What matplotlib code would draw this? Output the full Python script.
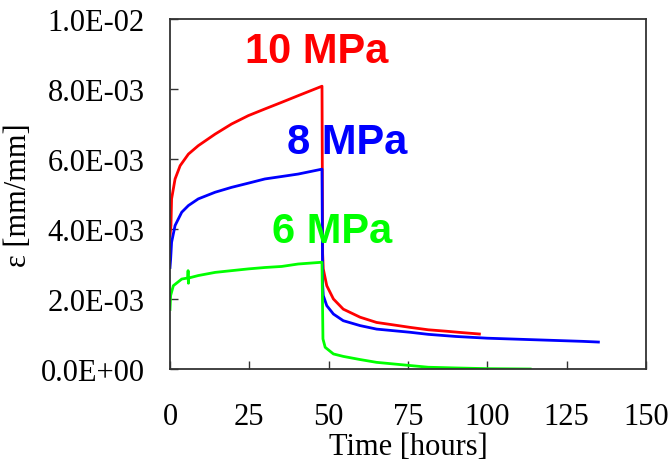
import numpy as np
import matplotlib.pyplot as plt
from matplotlib.ticker import FuncFormatter

# 10 MPa (strain in 1e-3 mm/mm)
t10 = [0, 0.3, 0.5, 1.6, 3.2, 5.8, 8.9, 14.2, 19.4, 24.7, 29.9, 35.2, 40.4, 47.9,
       48.1, 48.3, 49.4, 51.5, 54.6, 59.9, 65.1, 70.4, 75.6, 81.4, 87, 92, 97.5]
e10 = [3.8, 4.1, 4.86, 5.43, 5.81, 6.14, 6.38, 6.71, 7.0, 7.24, 7.43, 7.62, 7.81, 8.08,
       3.3, 2.86, 2.38, 2.0, 1.71, 1.48, 1.33, 1.26, 1.19, 1.12, 1.08, 1.04, 1.0]

# 8 MPa
t8 = [0, 0.2, 0.5, 1.6, 3.7, 5.8, 8.9, 14.2, 19.4, 24.7, 29.9, 35.2, 40.4, 47.9,
      48.1, 48.3, 49.4, 51.5, 54.6, 59.9, 65.1, 75.6, 81.4, 90, 100, 110, 120, 130, 135]
e8 = [2.9, 3.14, 3.62, 4.1, 4.48, 4.67, 4.86, 5.05, 5.19, 5.31, 5.43, 5.5, 5.57, 5.71,
      2.4, 2.1, 1.81, 1.57, 1.38, 1.24, 1.14, 1.05, 0.99, 0.93, 0.88, 0.85, 0.82, 0.79, 0.77]

# 6 MPa
t6 = [0, 0.2, 1.05, 3.7, 5.6, 5.7, 5.8, 5.9, 8.9, 14.2, 19.4, 24.7, 29.9, 35.2, 40.4, 47.9,
      48.2, 48.9, 51.5, 54.6, 59.9, 65.1, 75.6, 81.4, 90, 100, 113.5]
e6 = [1.7, 2.1, 2.38, 2.57, 2.6, 2.81, 2.45, 2.6, 2.67, 2.76, 2.81, 2.86, 2.9, 2.93, 3.0, 3.05,
      0.86, 0.62, 0.43, 0.36, 0.27, 0.19, 0.1, 0.05, 0.03, 0.01, 0.0]

xticks = [0, 25, 50, 75, 100, 125, 150]
yticks = [0, 0.002, 0.004, 0.006, 0.008, 0.010]

serif = 'Liberation Serif'
sans = 'Liberation Sans'

fig = plt.figure(figsize=(6.71, 4.64), dpi=100)
ax = fig.add_axes([170/671, 1-370/464, 476/671, 350/464])

ax.plot(t10, np.array(e10)*1e-3, color='#ff0000', lw=2.0)
ax.plot(t8, np.array(e8)*1e-3, color='#0000ff', lw=2.0)
ax.plot(t6, np.array(e6)*1e-3, color='#00ff00', lw=2.0)

ax.set_xlim(0, 150)
ax.set_ylim(0, 0.01)
ax.set_xticks(xticks)
ax.set_yticks(yticks)
ax.yaxis.set_major_formatter(FuncFormatter(lambda v, p: '%.1E' % v))
ax.tick_params(direction='in', length=6, width=1, color='#333333')
ax.tick_params(axis='x', pad=24, labelsize=22)
ax.tick_params(axis='y', pad=18, labelsize=22)
for lab in ax.get_xticklabels() + ax.get_yticklabels():
    lab.set_fontfamily(serif)
for s in ax.spines.values():
    s.set_color('#333333')
    s.set_linewidth(1.3)

ax.set_xlabel('Time [hours]', fontsize=22, family=serif, labelpad=0.5)
ax.set_ylabel('ε [mm/mm]', fontsize=22, family=serif, labelpad=6)

ax.text(46.3, 0.00909, '10 MPa', color='#ff0000', fontsize=30, fontweight='bold',
        family=sans, ha='center', va='center')
ax.text(55.9, 0.00649, '8 MPa', color='#0000ff', fontsize=30, fontweight='bold',
        family=sans, ha='center', va='center')
ax.text(51.2, 0.00394, '6 MPa', color='#00ff00', fontsize=30, fontweight='bold',
        family=sans, ha='center', va='center')

fig.savefig('out.png', dpi=100)
